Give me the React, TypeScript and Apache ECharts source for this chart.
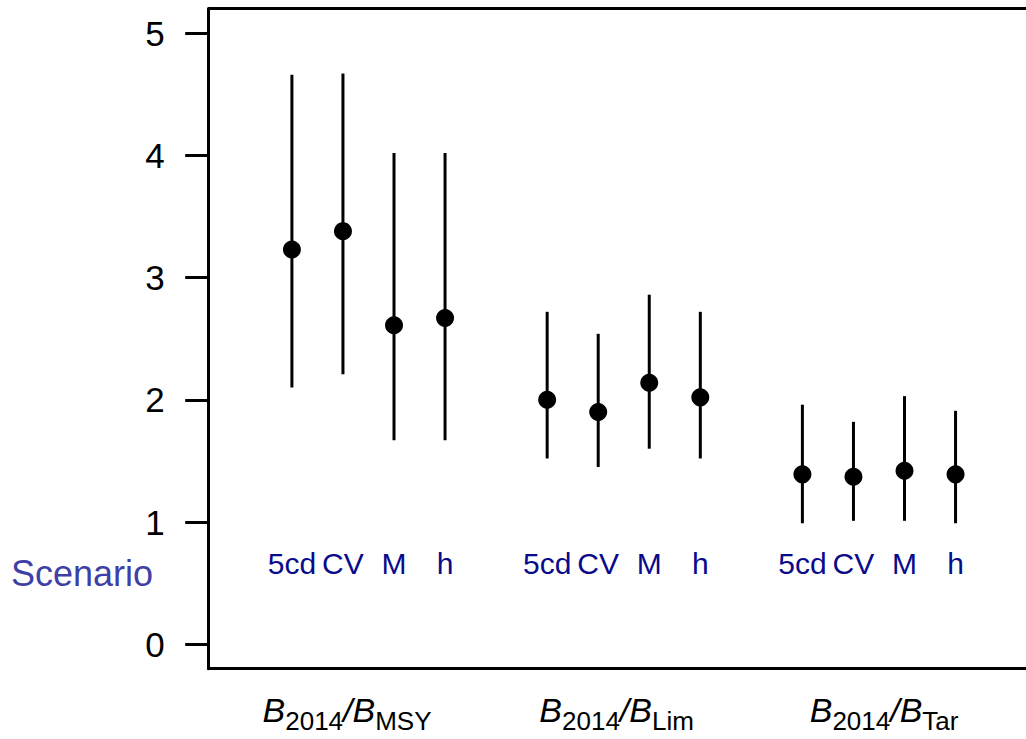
import React, { useEffect, useRef } from 'react';
import * as echarts from 'echarts';

// ---- data ----
const scenarios = ['5cd', 'CV', 'M', 'h'];
const refPoints = ['MSY', 'Lim', 'Tar'];
const xPos = [1, 2, 3, 4, 6, 7, 8, 9, 11, 12, 13, 14];
const estimate = [3.23, 3.38, 2.61, 2.67, 2.0, 1.9, 2.14, 2.02, 1.39, 1.37, 1.42, 1.39];
const lower = [2.1, 2.21, 1.67, 1.67, 1.52, 1.45, 1.6, 1.52, 0.99, 1.01, 1.01, 0.99];
const upper = [4.66, 4.67, 4.02, 4.02, 2.72, 2.54, 2.86, 2.72, 1.96, 1.82, 2.03, 1.91];
const yTicks = [0, 1, 2, 3, 4, 5];
const groupLabelX = [2.08, 7.36, 12.6];
const scenarioLabelY = 0.66;
const sideLabel = 'Scenario';

const FONT = '"Liberation Sans", Arial, sans-serif';

export default function App() {
  const ref = useRef<HTMLDivElement>(null);
  useEffect(() => {
    if (!ref.current) return;
    const chart = echarts.init(ref.current, null, { renderer: 'svg' });
    const axisLine = { show: true, onZero: false, lineStyle: { color: '#000', width: 3 } };
    const xRange = { min: -0.63, max: 15.38 };
    chart.setOption({
      animation: false,
      grid: { left: 208.7, top: 8.7, right: 0, height: 660, containLabel: false },
      xAxis: [
        {
          type: 'value',
          ...xRange,
          position: 'bottom',
          axisLine,
          axisTick: { show: false },
          splitLine: { show: false },
          axisLabel: {
            show: true,
            customValues: groupLabelX,
            margin: 27,
            formatter: (v: number) => {
              let idx = 0;
              let best = Infinity;
              groupLabelX.forEach((g, i) => {
                const d = Math.abs(g - v);
                if (d < best) { best = d; idx = i; }
              });
              return `{b|B}{s|2014}{n|/}{b|B}{s|${refPoints[idx]}}`;
            },
            rich: {
              b: { fontStyle: 'italic', fontSize: 34, fontFamily: FONT, color: '#000', lineHeight: 40, padding: [0, 0, 11, 0] },
              n: { fontStyle: 'italic', fontSize: 34, fontFamily: FONT, color: '#000', lineHeight: 40, padding: [0, 0, 11, 0] },
              s: { fontSize: 26, fontFamily: FONT, color: '#000', lineHeight: 40, padding: [11, 0, 0, 0] },
            },
          },
        },
        {
          type: 'value',
          ...xRange,
          position: 'top',
          axisLine,
          axisTick: { show: false },
          axisLabel: { show: false },
          splitLine: { show: false },
        },
      ],
      yAxis: {
        type: 'value',
        min: -0.2,
        max: 5.2,
        axisLine,
        splitLine: { show: false },
        axisTick: { show: true, customValues: yTicks, length: 23.5, lineStyle: { color: '#000', width: 3 } },
        axisLabel: { show: true, customValues: yTicks, margin: 44, fontSize: 35, fontFamily: FONT, color: '#000' },
      },
      graphic: [
        {
          type: 'text',
          x: 11,
          y: 573,
          style: { text: sideLabel, fontSize: 36, fontFamily: FONT, fill: '#3f3fa8', verticalAlign: 'middle', align: 'left' },
        },
      ],
      series: [
        {
          type: 'custom',
          clip: false,
          data: xPos.map((x, i) => [x, lower[i], upper[i]]),
          encode: { x: 0, y: [1, 2] },
          renderItem: (params: any, api: any) => {
            const p1 = api.coord([api.value(0), api.value(1)]);
            const p2 = api.coord([api.value(0), api.value(2)]);
            return {
              type: 'line',
              shape: { x1: p1[0], y1: p1[1], x2: p2[0], y2: p2[1] },
              style: { stroke: '#000', lineWidth: 3 },
            };
          },
        },
        {
          type: 'scatter',
          symbol: 'circle',
          symbolSize: 18,
          itemStyle: { color: '#000', opacity: 1 },
          data: xPos.map((x, i) => [x, estimate[i]]),
        },
        {
          type: 'scatter',
          symbolSize: 0,
          silent: true,
          itemStyle: { opacity: 1 },
          data: xPos.map((x, i) => ({ value: [x, scenarioLabelY], name: scenarios[i % scenarios.length] })),
          label: {
            show: true,
            position: 'inside',
            formatter: '{b}',
            fontSize: 30,
            fontFamily: FONT,
            color: '#0a0a8c',
            opacity: 1,
          },
        },
      ],
    });
    return () => chart.dispose();
  }, []);
  return (
    <div
      ref={ref}
      style={{ position: 'absolute', left: 0, top: 0, width: 1026, height: 739, background: '#fff' }}
    />
  );
}
